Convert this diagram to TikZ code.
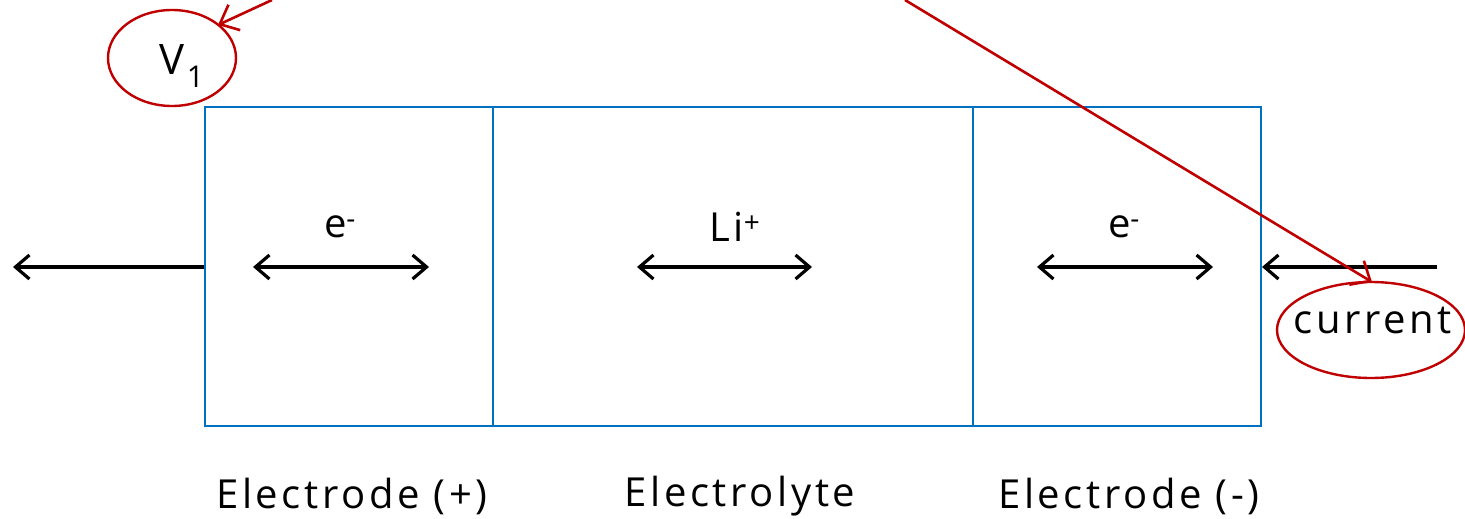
\documentclass[tikz,border=0pt]{standalone}
\usepackage{fontspec}
\setmainfont{Open Sans}[LetterSpace=9]
\usetikzlibrary{arrows.meta,shapes.geometric}
\definecolor{boxblue}{RGB}{0,112,192}
\definecolor{annred}{RGB}{192,0,0}
\tikzset{
  cell/.style={draw=boxblue,line width=2pt,minimum height=319pt,inner sep=0pt},
  flow/.style={line width=3.2pt,black,{Straight Barb[length=14pt,width=24pt,line width=3.2pt]}-{Straight Barb[length=14pt,width=24pt,line width=3.2pt]}},
  flowleft/.style={line width=3.2pt,black,{Straight Barb[length=14pt,width=24pt,line width=3.2pt]}-},
  lbl/.style={font=\fontsize{40}{44}\selectfont,inner sep=0pt},
  note/.style={draw=annred,line width=2.4pt,ellipse,inner sep=0pt},
  pointer/.style={draw=annred,line width=2.6pt,-{Straight Barb[length=16pt,width=28pt,line width=2.6pt]}}
}
\begin{document}
\begin{tikzpicture}[x=1pt,y=-1pt]
\useasboundingbox[fill=white] (0,0) rectangle (1465,519);
% cells
\node[cell,minimum width=288pt] (pos) at (349,266.5) {};
\node[cell,minimum width=480pt] (ely) at (733,266.5) {};
\node[cell,minimum width=288pt] (neg) at (1117,266.5) {};
% carrier labels
\node[lbl] (e1) at (340,227) {e\textsuperscript{-}};
\node[lbl] (li) at (735,227) {Li\textsuperscript{+}};
\node[lbl] (e2) at (1124,227) {e\textsuperscript{-}};
% double arrows
\coordinate (a1) at (253,267); \coordinate (b1) at (429,267);
\coordinate (a2) at (637,267); \coordinate (b2) at (812,267);
\coordinate (a3) at (1037,267); \coordinate (b3) at (1213,267);
\draw[flow] (a1) -- (b1);
\draw[flow] (a2) -- (b2);
\draw[flow] (a3) -- (b3);
% outer arrows
\coordinate (lend) at (13,267);
\coordinate (rend) at (1437,267);
\draw[flowleft] (lend) -- (pos.west |- lend);
\draw[flowleft] (neg.east |- rend) -- (rend);
% bottom labels
\node[lbl] (t1) at (352,496) {Electrode (+)};
\node[lbl] (t2) at (740,496) {Electrolyte};
\node[lbl] (t3) at (1129,496) {Electrode (-)};
% annotations
\node[note,minimum width=128pt,minimum height=96pt] (v1) at (172,58) {};
\node[lbl,font=\fontsize{42}{44}\selectfont] (v1t) at (182,66) {V\kern2pt\raisebox{-0.3em}{\fontsize{30}{32}\selectfont 1}};
\node[note,minimum width=188pt,minimum height=96pt] (cur) at (1371,330) {};
\node[lbl] (curt) at (1373,321) {current};
\coordinate (s1) at (272,0);
\coordinate (s2) at (905,0);
\draw[pointer] (s1) -- (218,25);
\draw[pointer] (s2) -- (1372,282);
\end{tikzpicture}
\end{document}
